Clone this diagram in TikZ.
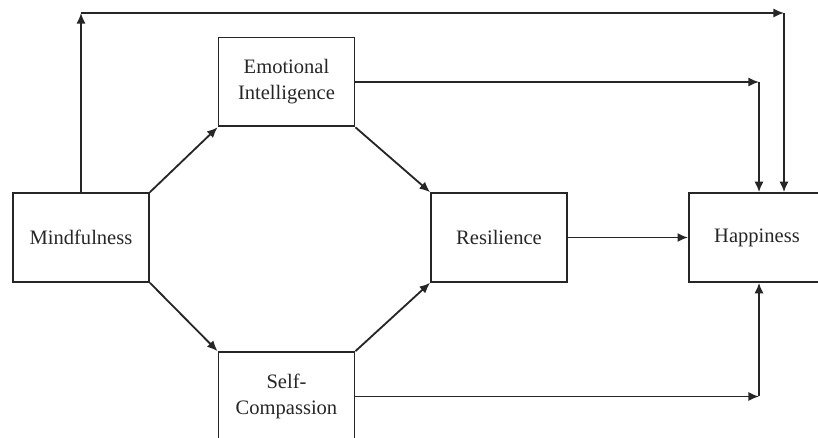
\documentclass[tikz,border=0pt]{standalone}
\usepackage{fontspec}
\setmainfont{Liberation Serif}
\usetikzlibrary{arrows.meta, positioning}

\begin{document}
\begin{tikzpicture}[x=0.025cm, y=-0.025cm, >={Latex[length=7.5pt,width=6.5pt]},
  line width=1.3pt, align=center, draw=black!85, text=black!85,
  font=\fontsize{14.6}{18.5}\selectfont]
  \tikzset{box/.style={draw, inner sep=0pt, minimum width=3.4cm, minimum height=2.22cm}}
  \useasboundingbox (0,0) rectangle (818,438);

  \node[box] (mind) at (81,237.5) {Mindfulness};
  \node[box] (ei) at (286.5,82) {Emotional\\Intelligence};
  \node[box] (sc) at (286.5,396.5) {Self-\\Compassion};
  \node[box] (res) at (499,237.5) {Resilience};
  \node[box] (hap) at (757,237.5) {Happiness};

  \coordinate (tl) at (81,13);
  \coordinate (tr) at (784,13);
  \coordinate (eir) at (759,82);
  \coordinate (scr) at (759,396.5);

  \draw[->] (mind.north east) -- (ei.south west);
  \draw[->] (mind.south east) -- (sc.north west);
  \draw[->] (ei.south east) -- (res.north west);
  \draw[->] (sc.north east) -- (res.south west);
  \draw[->] (res.east) -- (hap.west);

  % direct path over the top
  \draw[->] (mind.north) -- (tl);
  \draw[->] (tl) -- (tr);
  \draw[->] (tr) -- (tr |- hap.north);

  \draw[->] (ei.east) -- (eir);
  \draw[->] (eir) -- (eir |- hap.north);
  \draw[->] (sc.east) -- (scr);
  \draw[->] (scr) -- (scr |- hap.south);
\end{tikzpicture}
\end{document}
